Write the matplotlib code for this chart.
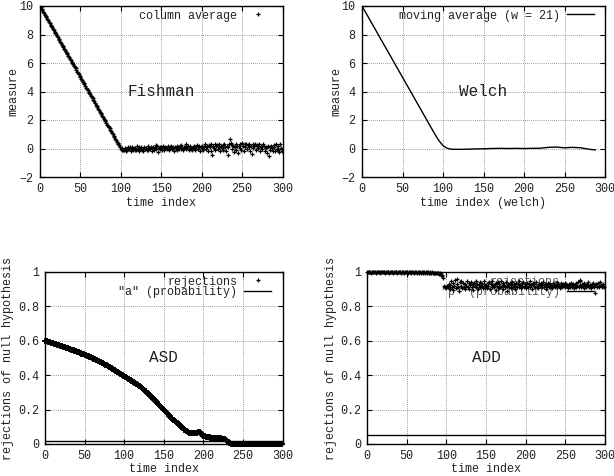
import matplotlib
matplotlib.use("Agg")
import matplotlib.pyplot as plt
import numpy as np

# ---------------- data ----------------
fishman_decline = [
    10.0, 9.92, 9.79, 9.71, 9.6, 9.52, 9.38, 9.31, 9.22, 9.08,
    9.0, 8.9, 8.81, 8.69, 8.6, 8.51, 8.39, 8.32, 8.2, 8.1,
    8.01, 7.88, 7.8, 7.71, 7.59, 7.5, 7.42, 7.28, 7.2, 7.12,
    6.99, 6.9, 6.78, 6.71, 6.6, 6.5, 6.41, 6.29, 6.2, 6.1,
    5.98, 5.91, 5.8, 5.7, 5.62, 5.49, 5.4, 5.31, 5.2, 5.1,
    5.0, 4.9, 4.81, 4.69, 4.6, 4.5, 4.42, 4.28, 4.2, 4.1,
    3.99, 3.88, 3.82, 3.7, 3.58, 3.52, 3.38, 3.3, 3.22, 3.08,
    3.0, 2.91, 2.78, 2.72, 2.58, 2.5, 2.42, 2.28, 2.2, 2.1,
    2.0, 1.9, 1.82, 1.68, 1.6, 1.5, 1.41, 1.3, 1.2, 1.12,
    0.99, 0.9, 0.8, 0.7, 0.62, 0.48, 0.41, 0.3, 0.22, 0.1,
]
fishman_tail = [
    -0.05, -0.1, 0.02, -0.12, -0.08, 0.05, -0.15, -0.02, -0.1, 0.08,
    -0.05, 0.12, -0.2, -0.03, 0.1, -0.08, 0.02, -0.12, 0.05, -0.1,
    0.15, -0.05, -0.18, 0.08, -0.02, 0.1, -0.1, 0.0, -0.15, 0.12,
    -0.05, 0.05, -0.08, 0.18, -0.12, 0.02, -0.05, 0.1, -0.2, 0.05,
    0.08, -0.1, 0.12, 0.25, -0.05, 0.2, -0.25, 0.05, 0.1, -0.02,
    0.1, -0.08, 0.15, 0.02, -0.1, 0.12, 0.05, -0.05, 0.18, 0.0,
    -0.12, 0.08, 0.2, -0.05, 0.1, 0.02, -0.15, 0.12, 0.05, 0.18,
    -0.08, 0.1, 0.0, 0.15, -0.05, 0.22, 0.05, -0.1, 0.12, 0.08,
    0.3, -0.05, 0.1, 0.15, -0.12, 0.05, 0.2, 0.0, -0.08, 0.12,
    0.05, 0.18, -0.1, 0.1, 0.25, -0.05, 0.08, 0.15, -0.15, 0.1,
    0.05, 0.2, -0.1, 0.12, 0.3, -0.05, 0.15, 0.08, -0.2, 0.25,
    0.1, 0.35, -0.15, -0.45, 0.2, 0.05, 0.3, -0.1, 0.15, 0.25,
    -0.05, 0.1, 0.3, -0.2, 0.18, 0.05, 0.22, -0.1, 0.35, 0.12,
    -0.15, 0.2, -0.45, 0.1, 0.3, 0.65, 0.4, -0.05, 0.25, 0.15,
    -0.25, 0.1, 0.3, -0.1, 0.2, -0.3, 0.15, 0.05, 0.35, -0.1,
    0.4, 0.2, -0.15, 0.35, 0.1, 0.3, -0.05, 0.25, 0.35, 0.1,
    -0.2, 0.15, -0.4, 0.3, 0.05, 0.2, 0.35, -0.1, 0.15, 0.25,
    0.05, 0.3, -0.15, 0.1, 0.2, -0.05, 0.35, 0.15, -0.2, 0.1,
    0.05, -0.3, 0.15, -0.55, 0.1, -0.1, 0.2, 0.05, -0.15, 0.25,
    0.1, -0.2, 0.35, 0.0, -0.1, 0.15, -0.25, 0.3, 0.05, -0.15,
]
fishman_values = fishman_decline + fishman_tail

welch_t = [0, 10, 20, 30, 40, 50, 60, 70, 80, 85, 90, 95, 100, 105, 110, 120,
           130, 140, 150, 160, 170, 180, 190, 200, 210, 220, 230, 240, 250,
           260, 270, 280, 288]
welch_values = [10.0, 9.0, 8.0, 7.0, 6.0, 5.0, 4.0, 3.0, 2.0, 1.5, 1.0, 0.55,
                0.2, 0.02, -0.05, -0.06, -0.05, -0.03, -0.02, 0.0, 0.01, 0.0,
                0.01, 0.0, 0.01, 0.02, 0.08, 0.1, 0.05, 0.08, 0.05, -0.05, -0.1]

asd_rejections = [
    0.600, 0.599, 0.597, 0.596, 0.594, 0.593, 0.591, 0.590, 0.588, 0.587,
    0.585, 0.584, 0.582, 0.581, 0.579, 0.578, 0.576, 0.575, 0.573, 0.572,
    0.570, 0.568, 0.567, 0.565, 0.564, 0.562, 0.560, 0.559, 0.557, 0.556,
    0.554, 0.552, 0.551, 0.549, 0.547, 0.546, 0.544, 0.542, 0.540, 0.539,
    0.537, 0.535, 0.533, 0.532, 0.530, 0.528, 0.526, 0.524, 0.523, 0.521,
    0.519, 0.517, 0.515, 0.513, 0.511, 0.509, 0.507, 0.505, 0.503, 0.501,
    0.499, 0.497, 0.495, 0.493, 0.490, 0.488, 0.486, 0.484, 0.481, 0.479,
    0.477, 0.474, 0.472, 0.469, 0.467, 0.464, 0.462, 0.459, 0.457, 0.454,
    0.451, 0.449, 0.446, 0.443, 0.440, 0.437, 0.435, 0.432, 0.429, 0.426,
    0.423, 0.420, 0.417, 0.414, 0.411, 0.408, 0.405, 0.402, 0.399, 0.397,
    0.395, 0.392, 0.389, 0.386, 0.383, 0.380, 0.377, 0.374, 0.371, 0.368,
    0.365, 0.362, 0.359, 0.356, 0.353, 0.350, 0.347, 0.344, 0.341, 0.338,
    0.335, 0.331, 0.327, 0.323, 0.319, 0.315, 0.311, 0.307, 0.303, 0.298,
    0.294, 0.290, 0.285, 0.281, 0.276, 0.272, 0.267, 0.262, 0.258, 0.253,
    0.248, 0.243, 0.238, 0.233, 0.228, 0.223, 0.218, 0.213, 0.208, 0.203,
    0.199, 0.194, 0.189, 0.184, 0.179, 0.174, 0.169, 0.164, 0.159, 0.154,
    0.150, 0.145, 0.141, 0.137, 0.133, 0.130, 0.127, 0.124, 0.120, 0.116,
    0.111, 0.106, 0.101, 0.096, 0.092, 0.088, 0.084, 0.080, 0.077, 0.074,
    0.071, 0.068, 0.066, 0.064, 0.063, 0.062, 0.063, 0.063, 0.064, 0.064,
    0.065, 0.066, 0.066, 0.067, 0.068, 0.069, 0.068, 0.062, 0.055, 0.048,
    0.045, 0.044, 0.044, 0.043, 0.043, 0.042, 0.040, 0.039, 0.038, 0.037,
    0.036, 0.036, 0.035, 0.034, 0.034, 0.033, 0.034, 0.035, 0.036, 0.037,
    0.037, 0.036, 0.033, 0.030, 0.029, 0.028, 0.028, 0.027, 0.026, 0.022,
    0.018, 0.014, 0.010, 0.007, 0.004, 0.002, 0.001, 0.0, 0.0, 0.0,
    0.0, 0.0, 0.0, 0.0, 0.0, 0.0, 0.0, 0.0, 0.0, 0.0,
    0.0, 0.0, 0.0, 0.0, 0.0, 0.0, 0.0, 0.0, 0.0, 0.0,
    0.0, 0.0, 0.0, 0.0, 0.0, 0.0, 0.0, 0.0, 0.0, 0.0,
    0.0, 0.0, 0.0, 0.0, 0.0, 0.0, 0.0, 0.0, 0.0, 0.0,
    0.0, 0.0, 0.0, 0.0, 0.0, 0.0, 0.0, 0.0, 0.0, 0.0,
    0.0, 0.0, 0.0, 0.0, 0.0, 0.0, 0.0, 0.0, 0.0, 0.0,
]
asd_probability = 0.02

add_rejections = [
    1.0, 1.0, 0.998, 1.0, 1.0, 0.997, 1.0, 1.0, 1.0, 0.998,
    1.0, 0.997, 1.0, 1.0, 0.998, 1.0, 1.0, 0.996, 1.0, 1.0,
    0.998, 1.0, 1.0, 0.997, 1.0, 0.998, 1.0, 1.0, 0.996, 1.0,
    1.0, 0.998, 1.0, 0.997, 1.0, 1.0, 0.998, 1.0, 0.996, 1.0,
    0.998, 1.0, 1.0, 0.997, 1.0, 0.998, 1.0, 0.996, 1.0, 1.0,
    0.998, 1.0, 0.997, 1.0, 1.0, 0.996, 1.0, 0.998, 1.0, 0.997,
    1.0, 0.998, 1.0, 0.996, 1.0, 0.997, 1.0, 0.998, 0.996, 1.0,
    0.997, 1.0, 0.998, 0.995, 1.0, 0.997, 0.998, 1.0, 0.996, 0.998,
    0.997, 0.995, 0.998, 0.996, 0.997, 0.994, 0.996, 0.995, 0.993, 0.996,
    0.994, 0.99, 0.992, 0.985, 0.975, 0.98, 0.965, 0.92, 0.915, 0.91,
    0.905, 0.92, 0.91, 0.93, 0.9, 0.925, 0.945, 0.91, 0.895, 0.935,
    0.92, 0.955, 0.905, 0.93, 0.96, 0.915, 0.89, 0.94, 0.92, 0.95,
    0.905, 0.935, 0.915, 0.9, 0.93, 0.92, 0.945, 0.91, 0.935, 0.9,
    0.925, 0.94, 0.915, 0.93, 0.895, 0.935, 0.92, 0.945, 0.91, 0.93,
    0.9, 0.925, 0.94, 0.915, 0.935, 0.92, 0.905, 0.93, 0.945, 0.91,
    0.925, 0.905, 0.935, 0.92, 0.94, 0.9, 0.93, 0.915, 0.945, 0.925,
    0.91, 0.93, 0.895, 0.935, 0.92, 0.94, 0.905, 0.93, 0.915, 0.95,
    0.92, 0.9, 0.935, 0.925, 0.91, 0.94, 0.92, 0.89, 0.93, 0.915,
    0.935, 0.905, 0.925, 0.94, 0.91, 0.93, 0.92, 0.9, 0.935, 0.915,
    0.93, 0.945, 0.91, 0.925, 0.905, 0.935, 0.92, 0.94, 0.915, 0.93,
    0.92, 0.905, 0.935, 0.915, 0.93, 0.945, 0.91, 0.925, 0.9, 0.935,
    0.92, 0.93, 0.91, 0.94, 0.915, 0.925, 0.905, 0.93, 0.92, 0.935,
    0.91, 0.925, 0.94, 0.915, 0.93, 0.9, 0.925, 0.92, 0.935, 0.91,
    0.93, 0.915, 0.925, 0.905, 0.935, 0.92, 0.93, 0.91, 0.925, 0.94,
    0.915, 0.93, 0.92, 0.905, 0.935, 0.925, 0.91, 0.93, 0.92, 0.935,
    0.915, 0.93, 0.92, 0.905, 0.93, 0.925, 0.91, 0.935, 0.92, 0.915,
    0.93, 0.905, 0.925, 0.935, 0.915, 0.92, 0.94, 0.91, 0.925, 0.95,
    0.915, 0.93, 0.92, 0.905, 0.935, 0.925, 0.91, 0.93, 0.92, 0.94,
    0.915, 0.925, 0.905, 0.93, 0.92, 0.935, 0.91, 0.925, 0.88, 0.93,
    0.915, 0.935, 0.92, 0.91, 0.94, 0.925, 0.915, 0.93, 0.92, 0.91,
]
add_probability = 0.05

x_ticks = [0, 50, 100, 150, 200, 250, 300]
top_yticks = [-2, 0, 2, 4, 6, 8, 10]
bottom_yticks = [0, 0.2, 0.4, 0.6, 0.8, 1]
bottom_yticklabels = ["0", "0.2", "0.4", "0.6", "0.8", "1"]

# ---------------- style ----------------
FONT = "Liberation Mono"
plt.rcParams["font.family"] = [FONT, "DejaVu Sans Mono"]
plt.rcParams["font.size"] = 8.5
TXT = "#222222"
plt.rcParams["text.color"] = TXT
plt.rcParams["xtick.labelcolor"] = TXT
plt.rcParams["ytick.labelcolor"] = TXT
plt.rcParams["axes.labelcolor"] = TXT

W, H = 614, 476
fig = plt.figure(figsize=(W / 100, H / 100), dpi=100)


def make_axes(l, r, t, b):
    return fig.add_axes([l / W, 1 - b / H, (r - l) / W, (b - t) / H])


def style(ax, yticks, ylim, yticklabels=None, ypad=5):
    ax.set_xlim(0, 300)
    ax.set_ylim(*ylim)
    ax.set_xticks(x_ticks)
    ax.set_yticks(yticks)
    if yticklabels is not None:
        ax.set_yticklabels(yticklabels)
    ax.tick_params(direction="in", length=3.5, width=0.8, top=True, right=True,
                   labelsize=8.5)
    ax.tick_params(axis="x", pad=4)
    ax.tick_params(axis="y", pad=ypad)
    ax.grid(True, color="#777777", linestyle=(0, (1, 1.5)), linewidth=0.6)
    ax.set_axisbelow(True)
    for s in ax.spines.values():
        s.set_linewidth(1.0)


def ylabel_at(ax, text, xpix, left, right):
    ax.set_ylabel(text, va="center")
    ax.yaxis.set_label_coords((xpix - left) / (right - left), 0.5)


def legend(ax, handles, labels, left, right):
    dx = 7.5 / (right - left)
    return ax.legend(handles, labels, loc="upper right",
                     bbox_to_anchor=(1 - dx, 1.0), frameon=False,
                     markerfirst=False, handlelength=2.3, handletextpad=0.6,
                     borderaxespad=0.1, borderpad=0.2, labelspacing=-0.12,
                     fontsize=8.5)


t_all = np.arange(len(fishman_values))

# Fishman
ax1 = make_axes(40, 282.5, 6, 177)
style(ax1, top_yticks, (-2, 10))
ax1.plot(t_all, fishman_values, linestyle="none", marker="+", markersize=3.5,
         mew=0.9, color="black", label="column average")
ax1.text(150, 4, "Fishman", ha="center", va="center", fontsize=11.5)
ax1.set_xlabel("time index", labelpad=2)
ylabel_at(ax1, "measure", 13, 40, 282.5)
legend(ax1, *ax1.get_legend_handles_labels(), 40, 282.5)

# Welch
ax2 = make_axes(362, 605, 6, 177)
style(ax2, top_yticks, (-2, 10))
ax2.plot(welch_t, welch_values, color="black", linewidth=1.0,
         label="moving average (w = 21)")
ax2.text(150, 4, "Welch", ha="center", va="center", fontsize=11.5)
ax2.set_xlabel("time index (welch)", labelpad=2)
ylabel_at(ax2, "measure", 336, 362, 605)
legend(ax2, *ax2.get_legend_handles_labels(), 362, 605)

# ASD
t_asd = np.arange(len(asd_rejections))
ax3 = make_axes(45, 282.5, 272, 444)
style(ax3, bottom_yticks, (0, 1), bottom_yticklabels, ypad=4)
ax3.plot(t_asd, asd_rejections, linestyle="none", marker="+", markersize=4,
         mew=1.3, color="black", label="rejections", clip_on=False)
ax3.axhline(asd_probability, color="black", linewidth=1.0,
            label='"a" (probability)')
ax3.text(150, 0.5, "ASD", ha="center", va="center", fontsize=11.5)
ax3.set_xlabel("time index", labelpad=1)
ylabel_at(ax3, "rejections of null hypothesis", 8, 45, 282.5)
h3, l3 = ax3.get_legend_handles_labels()
leg3 = legend(ax3, h3, l3, 45, 282.5)
leg3.legend_handles[0].set_markeredgewidth(0.9)
leg3.legend_handles[0].set_markersize(3.5)

# ADD
t_add = np.arange(len(add_rejections))
ax4 = make_axes(367, 605, 272, 444)
style(ax4, bottom_yticks, (0, 1), bottom_yticklabels, ypad=4)
ax4.axhline(add_probability, color="black", linewidth=1.0,
            label='"p" (probability)')
ax4.text(150, 0.5, "ADD", ha="center", va="center", fontsize=11.5)
ax4.set_xlabel("time index", labelpad=1)
ylabel_at(ax4, "rejections of null hypothesis", 331, 367, 605)
ax4.plot(t_add, add_rejections, linestyle="none", marker="+",
         markersize=3.5, mew=0.9, color="black", label="rejections",
         clip_on=False, zorder=5)
h, l = ax4.get_legend_handles_labels()
leg4 = legend(ax4, [h[1], h[0]], [l[1], l[0]], 367, 605)
leg4.set_zorder(1)
for txt in leg4.get_texts():
    txt.set_color("#555555")

fig.savefig("out.png", dpi=100)
